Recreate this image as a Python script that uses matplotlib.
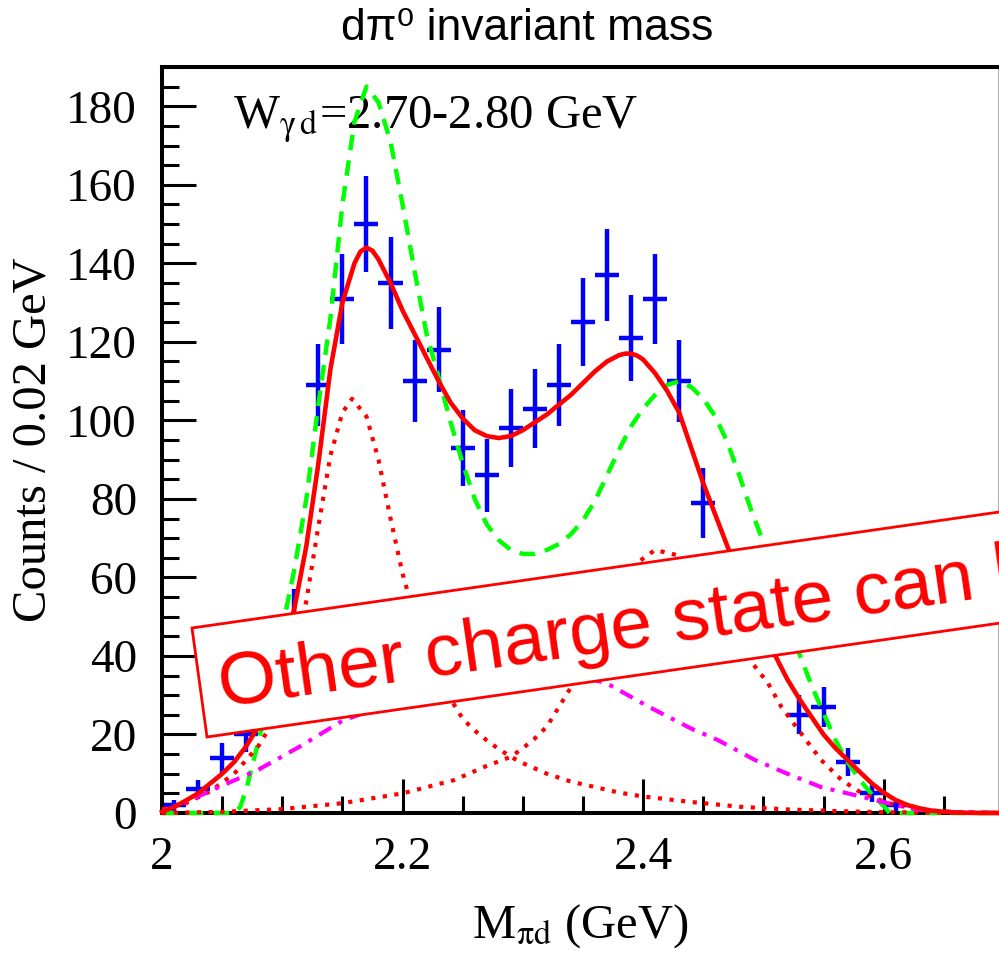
import numpy as np
import matplotlib.pyplot as plt
from matplotlib.patches import Polygon
from matplotlib.ticker import MultipleLocator

plt.rcParams['mathtext.fontset'] = 'stix'

# d pi0 invariant mass histogram, 0.02 GeV bins
bin_centres = [2.01, 2.03, 2.05, 2.07, 2.09, 2.11, 2.13, 2.15, 2.17, 2.19,
               2.21, 2.23, 2.25, 2.27, 2.29, 2.31, 2.33, 2.35, 2.37, 2.39,
               2.41, 2.43, 2.45, 2.47, 2.49, 2.51, 2.53, 2.55, 2.57, 2.59,
               2.61]
counts = [2, 6, 14, 20, 33, 50, 109, 131, 150, 135,
          110, 118, 93, 86, 98, 103, 109, 125, 137, 121,
          131, 110, 79, 57, 52, 50, 25, 27, 13, 5,
          2]

# total fit (red solid)
fit_x = [2.00, 2.01, 2.02, 2.03, 2.04, 2.05, 2.06, 2.07, 2.08, 2.09,
         2.10, 2.11, 2.12, 2.13, 2.14, 2.15, 2.16, 2.165, 2.17, 2.175,
         2.18, 2.19,
         2.20, 2.21, 2.22, 2.23, 2.24, 2.25, 2.26, 2.27, 2.28, 2.29,
         2.30, 2.31, 2.32, 2.33, 2.34, 2.35, 2.36, 2.37, 2.38, 2.385,
         2.39, 2.395,
         2.40, 2.41, 2.42, 2.43, 2.44, 2.45, 2.46, 2.47, 2.48, 2.49,
         2.50, 2.51, 2.52, 2.53, 2.54, 2.55, 2.56, 2.57, 2.58, 2.59,
         2.60, 2.61, 2.62, 2.63, 2.64, 2.65, 2.66, 2.68, 2.70]
fit_total = [0.3, 1.5, 3.2, 5, 7.5, 10, 13, 17, 22, 30,
             40, 52, 68, 89, 113, 130, 140, 143, 144, 143.2,
             141, 135,
             128, 122, 116, 110, 104.5, 100.5, 97.5, 96, 95.5, 96,
             97.5, 99.5, 101.5, 104, 106.5, 109.5, 112.5, 115, 116.6, 117,
             117, 116.5,
             115.5, 112, 107.5, 102, 93, 84, 76, 68, 60, 52,
             46, 40, 34, 29, 24.5, 20, 16.5, 13.5, 10.5, 7.6,
             5.2, 3.3, 2, 1.2, 0.6, 0.3, 0.1, 0, 0]

# model curve (green dashed)
model_x = [2.00, 2.06, 2.065, 2.07, 2.08, 2.09, 2.10, 2.11, 2.12, 2.13,
           2.14, 2.15, 2.16, 2.17, 2.18, 2.19, 2.20, 2.21, 2.22, 2.23,
           2.24, 2.25, 2.26, 2.27, 2.28, 2.29, 2.30, 2.31, 2.32, 2.33,
           2.34, 2.35, 2.36, 2.37, 2.38, 2.39, 2.40, 2.41, 2.42, 2.43,
           2.44, 2.45, 2.46, 2.47, 2.48, 2.49, 2.50, 2.51, 2.52, 2.53,
           2.54, 2.55, 2.56, 2.57, 2.58, 2.59, 2.60, 2.605, 2.70]
model_y = [0, 0, 1.5, 6, 18, 31, 47, 62, 80, 104,
           126, 155, 176, 185, 181, 171, 155, 138, 122, 111,
           99.5, 89, 80, 73.5, 69.5, 67, 66, 66, 67, 68.5,
           71, 74.5, 79.5, 86, 92.5, 98.5, 103, 106.5, 109, 110,
           108.5, 105.5, 101, 94.5, 86, 77, 69, 60, 50, 40.5,
           32.5, 25.5, 18.5, 13, 8.5, 4.8, 1.8, 0, 0]

# first resonance component (red dotted)
peak1_x = [2.00, 2.02, 2.04, 2.06, 2.08, 2.09, 2.10, 2.11, 2.12, 2.13,
           2.14, 2.15, 2.158, 2.17, 2.18, 2.19, 2.20, 2.21, 2.22, 2.23,
           2.24, 2.25, 2.26, 2.27, 2.28, 2.29, 2.30, 2.32, 2.34, 2.36,
           2.38, 2.40, 2.44, 2.48, 2.52, 2.56, 2.60, 2.70]
peak1_y = [1, 2.5, 5.5, 10, 17, 22, 30, 40, 54, 73,
           91, 102, 105.5, 101, 90, 75, 61, 50, 41, 34,
           29, 24, 21, 18.5, 16.3, 14.3, 12.7, 10, 8, 6.6,
           5.2, 4.2, 2.8, 1.6, 0.9, 0.5, 0.2, 0]

# second resonance component (red dotted)
peak2_x = [2.00, 2.05, 2.10, 2.15, 2.20, 2.243, 2.27, 2.29, 2.30, 2.31,
           2.32, 2.34, 2.36, 2.38, 2.394, 2.41, 2.428, 2.44, 2.46, 2.48,
           2.49, 2.504, 2.515, 2.532, 2.548, 2.565, 2.582, 2.604, 2.63, 2.66,
           2.70]
peak2_y = [0, 0.3, 1, 2.5, 5, 8.4, 12, 14.3, 16.5, 19,
           22, 32, 44, 56, 63.5, 67, 65.7, 62, 53, 44,
           38.5, 33, 27, 20, 13.5, 8.4, 5, 2.5, 0.8, 0.2,
           0]

# phase-space background (magenta dash-dot)
bg_x = [2.00, 2.01, 2.043, 2.08, 2.115, 2.15, 2.20, 2.25, 2.30, 2.34,
        2.37, 2.405, 2.44, 2.462, 2.493, 2.52, 2.548, 2.57, 2.593, 2.61,
        2.63, 2.66, 2.70]
bg_y = [0.5, 1.5, 6, 11, 17, 23.5, 29, 33, 35.5, 35.5,
        33, 27, 21.5, 18.6, 13.5, 10, 6.6, 5, 3.3, 2,
        0.8, 0.2, 0]

serif = 'Liberation Serif'
W, H = 999, 955


def px(x, y):
    # pixel position (from top-left) -> figure fraction
    return x / W, (H - y) / H


fig = plt.figure(figsize=(W / 100, H / 100), dpi=100)
ax = fig.add_axes([162 / W, (H - 813) / H, 836.5 / W, 746 / H])

ax.errorbar(bin_centres, counts, xerr=0.01, yerr=np.sqrt(counts), fmt='none',
            ecolor='#0000ff', elinewidth=3.2, capsize=0, zorder=2)

ax.plot(model_x, model_y, color='#00ff00', lw=3.2, dashes=(3.5, 2.3),
        zorder=3, clip_on=False)
ax.plot(peak1_x, peak1_y, color='#ff0000', lw=3.0, dashes=(1.0, 1.8),
        zorder=3, clip_on=False)
ax.plot(peak2_x, peak2_y, color='#ff0000', lw=3.0, dashes=(1.0, 1.8),
        zorder=3, clip_on=False)
ax.plot(bg_x, bg_y, color='#ff00ff', lw=3.0, dashes=(3.4, 2.0, 1.0, 2.0),
        zorder=3, clip_on=False)
ax.plot(fit_x, fit_total, color='#ff0000', lw=3.3, zorder=4, clip_on=False,
        solid_joinstyle='round')

ax.set_xlim(2, 2.6955)
ax.set_ylim(0, 190)
ax.xaxis.set_major_locator(MultipleLocator(0.2))
ax.xaxis.set_minor_locator(MultipleLocator(0.05))
ax.yaxis.set_major_locator(MultipleLocator(20))
ax.yaxis.set_minor_locator(MultipleLocator(5))
ax.set_xticks([2, 2.2, 2.4, 2.6])
ax.set_xticklabels(['2', '2.2', '2.4', '2.6'])

for s in ax.spines.values():
    s.set_linewidth(2.9)
ax.spines['right'].set_linewidth(1.2)
ax.spines['right'].set_color('#a0a0a0')
ax.tick_params(which='both', direction='in', top=False, right=False,
               width=2.2, labelsize=34, pad=17)
ax.tick_params(which='major', length=24.5)
ax.tick_params(which='minor', length=12)
ax.tick_params(axis='y', pad=18)
for lab in ax.get_xticklabels() + ax.get_yticklabels():
    lab.set_family(serif)

ax.set_ylabel('Counts / 0.02 GeV', family=serif, fontsize=35, va='center')
ax.yaxis.set_label_coords(-0.154, 0.5)
ax.set_xlabel(r'M$_{\mathrm{\pi d}}$ (GeV)', family=serif, fontsize=35,
              va='baseline')
ax.xaxis.set_label_coords(0.5, -0.1676)

ax.text((233 - 162) / 836.5, (813 - 128) / 746,
        r'W$_{\mathrm{\gamma\,d}}$=2.70-2.80 GeV',
        transform=ax.transAxes, family=serif, fontsize=35,
        ha='left', va='baseline', zorder=1)

# title above the frame
tx, ty = px(527, 29)
fig.text(tx, ty, 'dπ⁰ invariant mass', family=['Liberation Sans', 'DejaVu Sans'],
         fontsize=32, ha='center', va='center')

# tilted note box over the lower half of the plot
slope = 0.1437
corners = [(192, 628), (1060, 628 - 868 * slope),
           (1075, 737 - 868 * slope), (207, 737)]
banner = Polygon([px(x, y) for x, y in corners], closed=True,
                 transform=fig.transFigure, facecolor='white',
                 edgecolor='#ff0000', linewidth=2.0, zorder=10)
fig.patches.append(banner)
bx, by = px(222, 707)
fig.text(bx, by, 'Other charge state can be', color='#ff0000', fontsize=54,
         family='Liberation Sans', rotation=np.degrees(np.arctan(slope)),
         rotation_mode='anchor', ha='left', va='baseline', zorder=11)

fig.savefig('out.png', dpi=100)
